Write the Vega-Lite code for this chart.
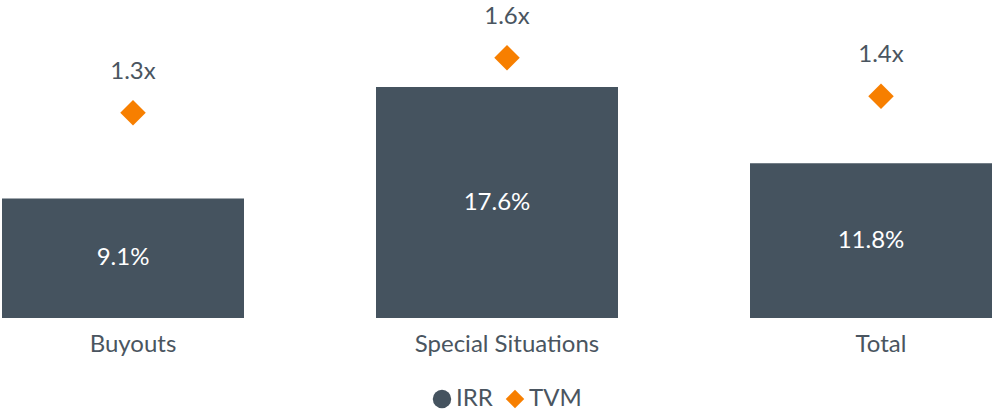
{
  "$schema": "https://vega.github.io/schema/vega-lite/v6.json",
  "width": 992,
  "height": 318,
  "padding": {"top": 0, "left": 0, "right": 0, "bottom": 95},
  "autosize": "none",
  "background": "white",
  "config": {
    "view": {"stroke": null},
    "font": "Lato",
    "text": {"font": "Lato"}
  },
  "data": {
    "values": [
      {"cat": "Buyouts", "IRR": 9.1, "TVM": 1.3, "irrLabel": "9.1%", "tvmLabel": "1.3x"},
      {"cat": "Special Situations", "IRR": 17.6, "TVM": 1.6, "irrLabel": "17.6%", "tvmLabel": "1.6x"},
      {"cat": "Total", "IRR": 11.8, "TVM": 1.39, "irrLabel": "11.8%", "tvmLabel": "1.4x"}
    ]
  },
  "encoding": {
    "x": {
      "field": "cat",
      "type": "nominal",
      "sort": null,
      "scale": {"range": [-54, 1068], "paddingInner": 0, "paddingOuter": 0},
      "axis": {
        "title": null,
        "domain": false,
        "ticks": false,
        "labelAngle": 0,
        "labelFont": "Lato",
        "labelFontSize": 24,
        "labelColor": "#4a5560",
        "labelPadding": 14,
        "labelLimit": 400
      }
    }
  },
  "layer": [
    {
      "mark": {"type": "bar", "width": 242, "xOffset": -10, "color": "#45535f"},
      "encoding": {
        "y": {"field": "IRR", "type": "quantitative", "scale": {"domain": [0, 24.23], "nice": false, "zero": true}, "axis": null},
        "color": {
          "datum": "IRR",
          "scale": {"domain": ["IRR", "TVM"], "range": ["#45535f", "#f77f00"]},
          "legend": {
            "title": null,
            "orient": "none",
            "direction": "horizontal",
            "legendX": 430,
            "legendY": 387,
            "padding": 0,
            "symbolSize": 340,
            "symbolStrokeWidth": 0,
            "symbolOpacity": 1,
            "labelFont": "Lato",
            "labelFontSize": 24,
            "labelColor": "#4a5560",
            "labelOffset": 2,
            "labelLimit": 200,
            "columnPadding": 10,
            "encode": {
              "symbols": {
                "update": {
                  "shape": {"signal": "datum.value === 'IRR' ? 'circle' : 'diamond'"}
                }
              }
            }
          }
        }
      }
    },
    {
      "mark": {"type": "text", "xOffset": -10, "color": "white", "fontSize": 24, "font": "Lato", "baseline": "middle"},
      "encoding": {
        "y": {"field": "IRR", "type": "quantitative", "scale": {"domain": [0, 48.46], "nice": false, "zero": true}, "axis": null},
        "text": {"field": "irrLabel"}
      }
    },
    {
      "mark": {"type": "point", "shape": "diamond", "filled": true, "size": 650, "opacity": 1, "color": "#f77f00"},
      "encoding": {
        "y": {"field": "TVM", "type": "quantitative", "scale": {"domain": [0.18, 1.915], "nice": false, "zero": false}, "axis": null},
        "color": {"datum": "TVM"}
      }
    },
    {
      "mark": {"type": "text", "color": "#4a5560", "fontSize": 24, "font": "Lato", "baseline": "middle", "dy": -41},
      "encoding": {
        "y": {"field": "TVM", "type": "quantitative", "scale": {"domain": [0.18, 1.915], "nice": false, "zero": false}, "axis": null},
        "text": {"field": "tvmLabel"}
      }
    }
  ],
  "resolve": {"scale": {"y": "independent"}}
}
